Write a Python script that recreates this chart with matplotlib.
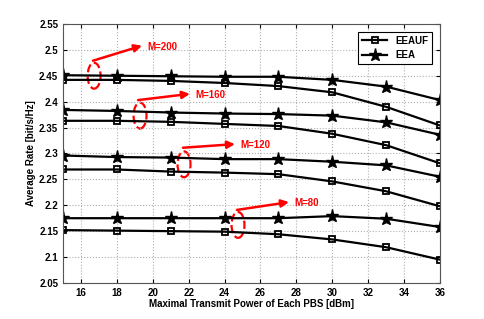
import numpy as np
import matplotlib
matplotlib.use("Agg")
import matplotlib.pyplot as plt
from matplotlib.patches import Ellipse

plt.rcParams['font.family'] = ['Liberation Sans', 'DejaVu Sans']
plt.rcParams['font.weight'] = 'bold'
plt.rcParams['font.size'] = 7

# --- data ---
power = [15, 18, 21, 24, 27, 30, 33, 36]

eeauf = {
    200: [2.442, 2.442, 2.440, 2.436, 2.430, 2.418, 2.390, 2.354],
    160: [2.363, 2.363, 2.361, 2.357, 2.353, 2.338, 2.316, 2.281],
    120: [2.269, 2.269, 2.265, 2.263, 2.260, 2.246, 2.227, 2.198],
    80: [2.152, 2.151, 2.150, 2.149, 2.144, 2.134, 2.119, 2.095],
}
eea = {
    200: [2.451, 2.450, 2.449, 2.448, 2.448, 2.442, 2.429, 2.403],
    160: [2.384, 2.382, 2.379, 2.377, 2.376, 2.373, 2.360, 2.336],
    120: [2.296, 2.293, 2.292, 2.289, 2.289, 2.284, 2.277, 2.255],
    80: [2.175, 2.175, 2.175, 2.175, 2.175, 2.179, 2.174, 2.158],
}

# annotations: ellipse centre, arrow start, arrow end
notes = {
    200: ((16.73, 2.450), (16.67, 2.479), (19.40, 2.508)),
    160: ((19.29, 2.373), (19.18, 2.403), (22.07, 2.415)),
    120: ((21.74, 2.279), (21.68, 2.311), (24.58, 2.318)),
    80: ((24.75, 2.162), (24.69, 2.191), (27.59, 2.206)),
}

fig = plt.figure(figsize=(4.85, 3.19), dpi=100)
ax = fig.add_axes([0.130, 0.113, 0.777, 0.812])

for i, m in enumerate([200, 160, 120, 80]):
    ax.plot(power, eeauf[m], color='black', lw=1.6, marker='s', ms=5,
            mfc='none', mew=1.3, label='EEAUF' if i == 0 else None)
    ax.plot(power, eea[m], color='black', lw=1.6, marker='*', ms=9.5,
            label='EEA' if i == 0 else None)

for m, (c, a0, a1) in notes.items():
    ax.add_patch(Ellipse(c, 0.72, 0.050, fill=False, ec='red', lw=1.6, ls='--'))
    ax.annotate('', xy=a1, xytext=a0,
                arrowprops=dict(arrowstyle='-|>', color='red', lw=1.8,
                                mutation_scale=11, shrinkA=0, shrinkB=0))
    ax.text(a1[0] + 0.28, a1[1] - 0.002, f'M={m}', color='red',
            fontweight='bold', fontsize=7, va='center', ha='left')

ax.set_xlim(15, 36)
ax.set_ylim(2.05, 2.55)
ax.set_xticks(np.arange(16, 37, 2))
ax.set_yticks(np.arange(2.05, 2.551, 0.05))
ax.set_yticklabels(['2.05', '2.1', '2.15', '2.2', '2.25', '2.3', '2.35', '2.4',
                    '2.45', '2.5', '2.55'])
ax.grid(True, ls=':', color='#b0b0b0', lw=0.8)
ax.tick_params(direction='in', length=3, width=0.8, labelsize=7, right=True, top=True)
for s in ax.spines.values():
    s.set_linewidth(0.8)
    s.set_color('#555555')

ax.set_xlabel('Maximal Transmit Power of Each PBS [dBm]', fontweight='bold', labelpad=1)
ax.set_ylabel('Average Rate [bit/s/Hz]', fontweight='bold', labelpad=2)

leg = ax.legend(loc='upper right', fancybox=False, edgecolor='black',
                handlelength=2.6, borderaxespad=0.8, framealpha=1, fontsize=7)
leg.get_frame().set_linewidth(0.8)

fig.savefig('out.png', dpi=100)
